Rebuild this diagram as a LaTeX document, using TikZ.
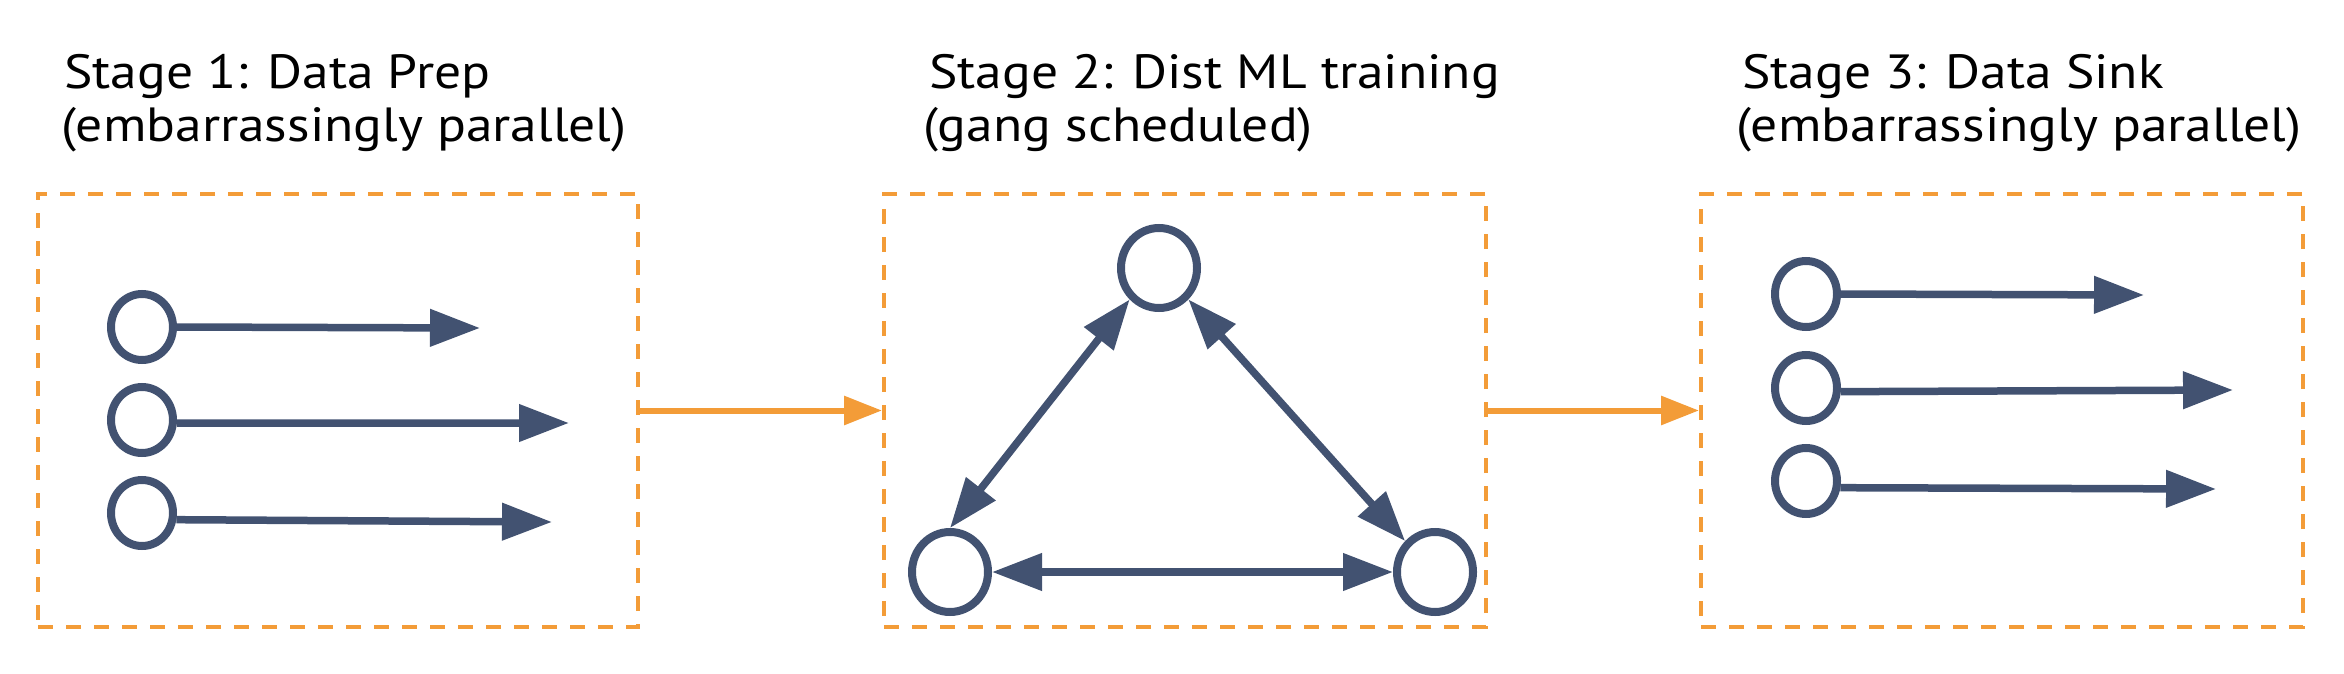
\documentclass[tikz,border=0pt]{standalone}
\usepackage{fontspec}
\usepackage{graphicx}
\setmainfont{PT Sans}
\usetikzlibrary{arrows.meta,shapes.geometric}
\definecolor{navy}{RGB}{66,82,113}
\definecolor{amber}{RGB}{243,156,56}
\newcommand\ttlwide[1]{\scalebox{1.115}[1]{#1}}
\tikzset{
  stagebox/.style={draw=amber,line width=4pt,dash pattern=on 15pt off 13pt,rectangle,minimum width=600pt,minimum height=433pt,inner sep=0pt},
  worker/.style={draw=navy,line width=8pt,ellipse,inner sep=0pt},
  smallw/.style={worker,minimum width=62pt,minimum height=66pt},
  bigw/.style={worker,minimum width=76pt,minimum height=80pt},
  flow/.style={draw=navy,line width=7.5pt,-{Triangle[length=50pt,width=36pt]}},
  sync/.style={draw=navy,line width=7.5pt,{Triangle[length=50pt,width=36pt]}-{Triangle[length=50pt,width=36pt]}},
  handoff/.style={draw=amber,line width=6pt,-{Triangle[length=38pt,width=28pt]}},
  title/.style={anchor=base west,inner sep=0pt,font=\fontsize{48pt}{53pt}\selectfont}
}
\begin{document}
\begin{tikzpicture}[x=1pt,y=-1pt]
\useasboundingbox (0,0) rectangle (2344,674);
% titles
\node[title] (t1a) at (64,89) {\ttlwide{Stage 1: Data Prep}};
\node[title] (t1b) at (61,142) {\ttlwide{(embarrassingly parallel)}};
\node[title] (t2a) at (929,89) {\ttlwide{Stage 2: Dist ML training}};
\node[title] (t2b) at (923,142) {\ttlwide{(gang scheduled)}};
\node[title] (t3a) at (1742,89) {\ttlwide{Stage 3: Data Sink}};
\node[title] (t3b) at (1736,142) {\ttlwide{(embarrassingly parallel)}};
% boxes
\node[stagebox] (b1) at (338,410.5) {};
\node[stagebox,minimum width=602pt] (b2) at (1185,410.5) {};
\node[stagebox,minimum width=602pt] (b3) at (2002,410.5) {};
\draw[handoff] (b1.east) -- (b2.west);
\draw[handoff] (b2.east) -- (b3.west);
% stage 1
\node[smallw] (a1) at (142,327) {};
\node[smallw] (a2) at (142,420) {};
\node[smallw] (a3) at (142,513) {};
\coordinate (a1t) at (480,328);
\coordinate (a2t) at (569,423);
\coordinate (a3t) at (552,522);
\draw[flow] (a1.0) -- (a1t);
\draw[flow] (a2.-5) -- (a2t);
\draw[flow] (a3.-11) -- (a3t);
% stage 2
\node[bigw] (top) at (1159,268) {};
\node[bigw] (bl) at (950,572) {};
\node[bigw] (br) at (1435,572) {};
\draw[sync] (bl.90) -- (top.227);
\draw[sync] (top.313) -- (br.134);
\draw[sync] (bl.0) -- (br.180);
% stage 3
\node[smallw] (c1) at (1806,294) {};
\node[smallw] (c2) at (1806,388) {};
\node[smallw] (c3) at (1806,481) {};
\coordinate (c1t) at (2144,295);
\coordinate (c2t) at (2233,390);
\coordinate (c3t) at (2216,489);
\draw[flow] (c1.0) -- (c1t);
\draw[flow] (c2.-6) -- (c2t);
\draw[flow] (c3.-11) -- (c3t);
\end{tikzpicture}
\end{document}
